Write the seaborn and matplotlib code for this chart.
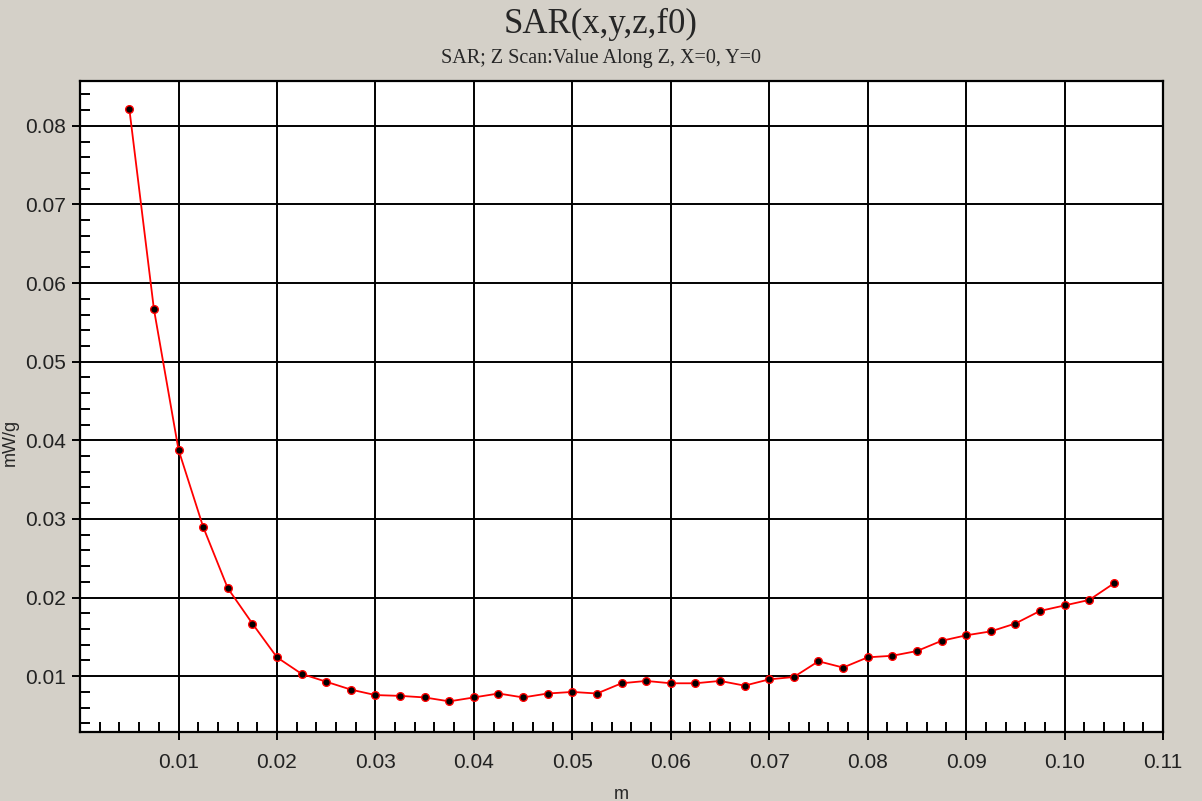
import numpy as np
import pandas as pd
import seaborn as sns
import matplotlib.pyplot as plt
from matplotlib.ticker import MultipleLocator, FormatStrFormatter

# z positions (m) and SAR values (mW/g)
z_m = [0.005, 0.0075, 0.01, 0.0125, 0.015, 0.0175, 0.02, 0.0225, 0.025, 0.0275,
       0.03, 0.0325, 0.035, 0.0375, 0.04, 0.0425, 0.045, 0.0475, 0.05, 0.0525,
       0.055, 0.0575, 0.06, 0.0625, 0.065, 0.0675, 0.07, 0.0725, 0.075, 0.0775,
       0.08, 0.0825, 0.085, 0.0875, 0.09, 0.0925, 0.095, 0.0975, 0.1, 0.1025, 0.105]
sar = [0.0822, 0.0567, 0.0388, 0.0290, 0.0212, 0.0167, 0.0124, 0.0103, 0.0093, 0.0083,
       0.0076, 0.0075, 0.0073, 0.0068, 0.0073, 0.0078, 0.0073, 0.0078, 0.0080, 0.0078,
       0.0091, 0.0094, 0.0091, 0.0091, 0.0094, 0.0088, 0.0096, 0.0099, 0.0119, 0.0111,
       0.0124, 0.0126, 0.0132, 0.0145, 0.0152, 0.0157, 0.0167, 0.0183, 0.0190, 0.0197, 0.0218]

x_ticks = [0.01, 0.02, 0.03, 0.04, 0.05, 0.06, 0.07, 0.08, 0.09, 0.10, 0.11]
y_ticks = [0.01, 0.02, 0.03, 0.04, 0.05, 0.06, 0.07, 0.08]

df = pd.DataFrame({"m": z_m, "mW/g": sar})

sns.set_style("white")
plt.rcParams['font.family'] = ['Liberation Sans', 'DejaVu Sans']

bg = "#d4d0c8"
fig = plt.figure(figsize=(12.02, 8.01), dpi=100, facecolor=bg)
ax = fig.add_axes([0.0666, 0.0861, 0.9010, 0.8128])
ax.set_facecolor("white")

sns.lineplot(data=df, x="m", y="mW/g", ax=ax, color="red", linewidth=1.3,
             marker="o", markersize=5.5, markerfacecolor="black",
             markeredgecolor="red", markeredgewidth=1.0, zorder=5)

ax.set_xlim(0, 0.11)
ax.set_ylim(0.0029, 0.0857)
ax.set_xticks(x_ticks)
ax.set_yticks(y_ticks)
ax.xaxis.set_major_formatter(FormatStrFormatter("%.2f"))
ax.yaxis.set_major_formatter(FormatStrFormatter("%.2f"))
ax.xaxis.set_minor_locator(MultipleLocator(0.002))
ax.yaxis.set_minor_locator(MultipleLocator(0.002))

ax.grid(True, which="major", color="black", linewidth=1.4)
ax.tick_params(which="major", direction="out", length=6, width=1.4,
               color="black", labelsize=15, labelcolor="#222222", pad=4)
ax.tick_params(axis="x", which="major", pad=9)
ax.tick_params(which="minor", direction="in", length=7, width=1.4, color="black")
ax.tick_params(axis="x", which="both", bottom=True, top=False)
ax.tick_params(axis="y", which="both", left=True, right=False)
for side, sp in ax.spines.items():
    sp.set_color("black")
    sp.set_linewidth(1.6)

ax.set_xlabel("m", fontsize=13)
ax.set_ylabel("mW/g", fontsize=13)
ax.xaxis.set_label_coords(0.5, -0.083)
ax.yaxis.set_label_coords(-0.057, 0.445)

fig.text(0.5, 0.969, "SAR(x,y,z,f0)", ha="center", va="center",
         fontsize=25, family=["Liberation Serif", "DejaVu Serif"])
fig.text(0.5, 0.927, "SAR; Z Scan:Value Along Z, X=0, Y=0", ha="center",
         va="center", fontsize=14.5, family=["Liberation Serif", "DejaVu Serif"])

fig.savefig("out.png", dpi=100, facecolor=bg)
